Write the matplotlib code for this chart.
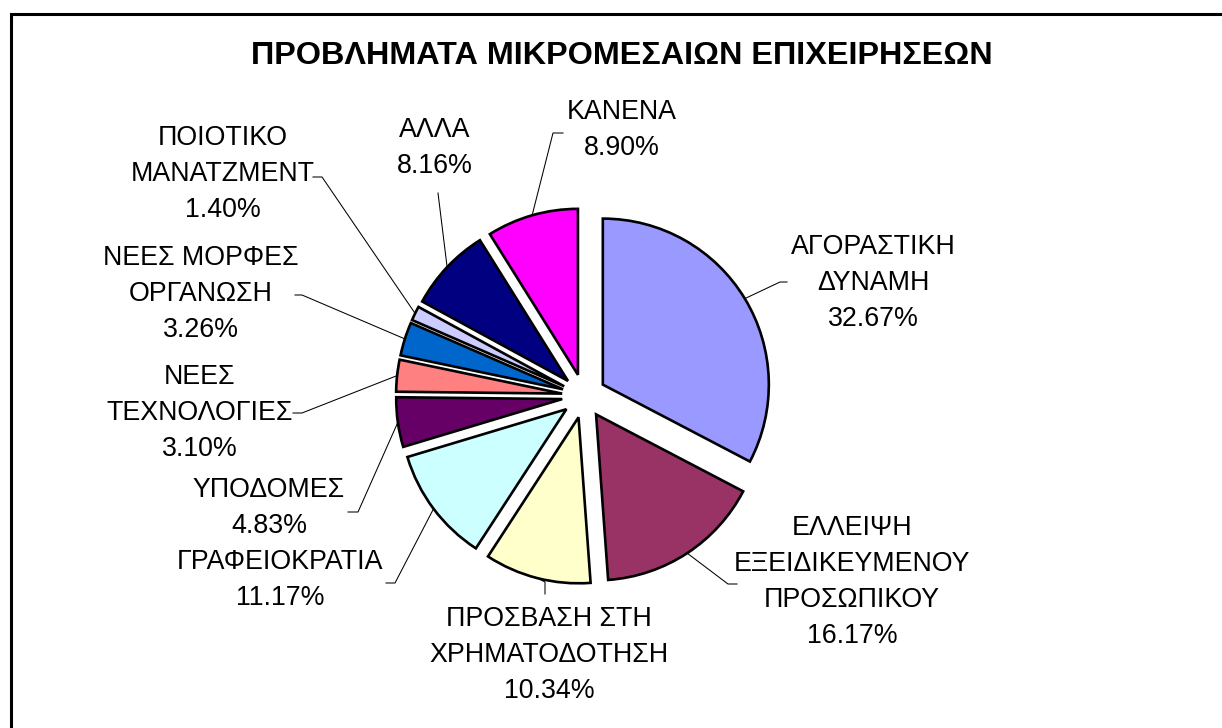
import matplotlib.pyplot as plt
import numpy as np

plt.rcParams['font.family'] = ['Liberation Sans', 'DejaVu Sans']

title = 'ΠΡΟΒΛΗΜΑΤΑ ΜΙΚΡΟΜΕΣΑΙΩΝ ΕΠΙΧΕΙΡΗΣΕΩΝ'
categories = ['ΑΓΟΡΑΣΤΙΚΗ\nΔΥΝΑΜΗ',
              'ΕΛΛΕΙΨΗ\nΕΞΕΙΔΙΚΕΥΜΕΝΟΥ\nΠΡΟΣΩΠΙΚΟΥ',
              'ΠΡΟΣΒΑΣΗ ΣΤΗ\nΧΡΗΜΑΤΟΔΟΤΗΣΗ',
              'ΓΡΑΦΕΙΟΚΡΑΤΙΑ',
              'ΥΠΟΔΟΜΕΣ',
              'ΝΕΕΣ\nΤΕΧΝΟΛΟΓΙΕΣ',
              'ΝΕΕΣ ΜΟΡΦΕΣ\nΟΡΓΑΝΩΣΗ',
              'ΠΟΙΟΤΙΚΟ\nΜΑΝΑΤΖΜΕΝΤ',
              'ΑΛΛΑ',
              'ΚΑΝΕΝΑ']
percents = [32.67, 16.17, 10.34, 11.17, 4.83, 3.10, 3.26, 1.40, 8.16, 8.90]
colors = ['#9999FF', '#993366', '#FFFFCC', '#CCFFFF', '#660066',
          '#FF8080', '#0066CC', '#CCCCFF', '#000080', '#FF00FF']

# layout (pixel coords, y from top)
W, H = 1222, 728
center_px = (584, 396)
radius_px = 166
explode_px = 22
label_pos = [(873, 283), (852, 582), (549, 655), (280, 580), (269, 508),
             (200, 413), (201, 294), (223, 174), (435, 148), (622, 130)]
leader_elbow = [(780, 282), (728, 584), (545, 582), (395, 583), (358, 512),
                (302, 413), (302, 295), (322, 177), (438, 193), (553, 133)]
leader_end = [(787, 282), (737, 584), (545, 594), (386, 583), (348, 512),
              (293, 413), (295, 295), (313, 177), (438, 193), (563, 133)]


def px(p):
    return p[0], H - p[1]


fig = plt.figure(figsize=(W / 100, H / 100), dpi=100)
ax = fig.add_axes([0, 0, 1, 1])

# explode is in data units here (pixels)
wedges, _ = ax.pie(percents, colors=colors, startangle=90, counterclock=False,
                   center=px(center_px), radius=radius_px,
                   explode=[explode_px] * len(percents),
                   wedgeprops=dict(edgecolor='black', linewidth=1.9),
                   frame=True)

for i, w in enumerate(wedges):
    mid = np.deg2rad((w.theta1 + w.theta2) / 2)
    sx = w.center[0] + w.r * np.cos(mid)
    sy = w.center[1] + w.r * np.sin(mid)
    ex, ey = px(leader_elbow[i])
    fx, fy = px(leader_end[i])
    ax.plot([sx, ex, fx], [sy, ey, fy], color='black', lw=0.75)
    lx, ly = px(label_pos[i])
    ax.text(lx, ly, f'{categories[i]}\n{percents[i]:.2f}%', ha='center',
            va='center', fontsize=19.3, linespacing=1.5, color='black')

ax.text(622, H - 56, title, ha='center', va='center', fontsize=23.3,
        fontweight='bold')

# chart frame (top and left edges visible)
ax.plot([11, 11, W], [0, H - 13.5, H - 13.5], color='black', lw=2.2,
        solid_joinstyle='miter')

ax.set_xlim(0, W)
ax.set_ylim(0, H)
ax.set_aspect('equal')
ax.axis('off')

fig.savefig('out.png', dpi=100, facecolor='white')
